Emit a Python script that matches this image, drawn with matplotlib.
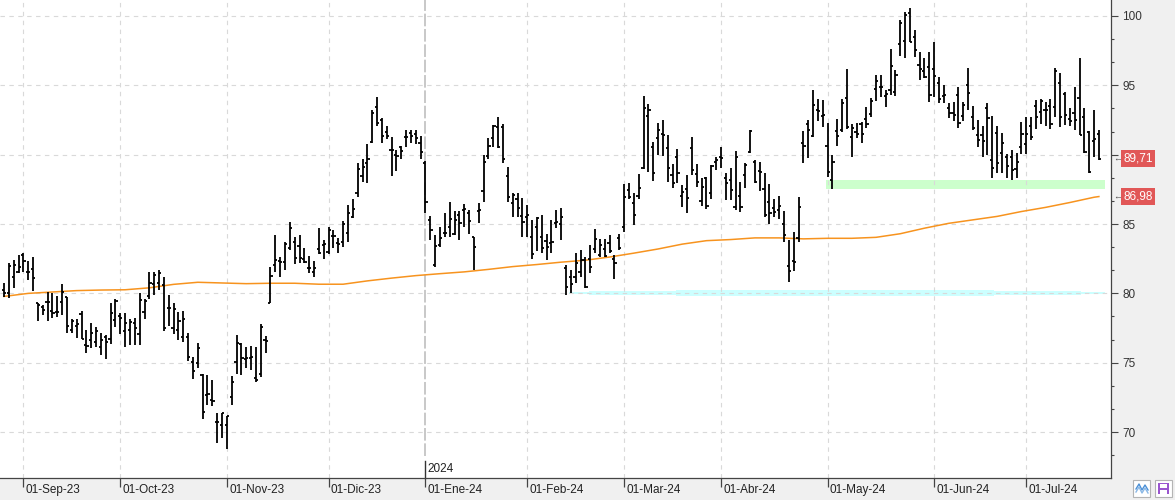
import matplotlib
matplotlib.use("Agg")
import matplotlib.pyplot as plt
import numpy as np
import pandas as pd
from matplotlib.ticker import MultipleLocator
from matplotlib.patches import Rectangle
from matplotlib.lines import Line2D

plt.rcParams["font.family"] = ["Liberation Sans", "DejaVu Sans"]
plt.rcParams["font.size"] = 8

# Trading days (US calendar), 28-Aug-2023 .. 23-Jul-2024
holidays = ["2023-09-04", "2023-11-23", "2023-12-25", "2024-01-01", "2024-01-15",
            "2024-02-19", "2024-03-29", "2024-05-27", "2024-06-19", "2024-07-04"]
dates = pd.bdate_range("2023-08-28", "2024-07-23").drop(pd.to_datetime(holidays))

opens = [
    80.24, 80.0, 81.16, 81.57, 82.77, 81.57, 81.74, 79.28, 79.04, 79.4,
    78.73, 78.68, 79.4, 79.72, 77.36, 77.65, 78.49, 76.28, 76.64, 76.52,
    76.11, 76.83, 76.71, 78.08, 78.37, 77.31, 77.36, 77.84, 77.07, 78.68,
    79.81, 80.65, 80.73, 80.61, 78.92, 77.48, 77.36, 76.88, 76.88, 75.03,
    75.0, 74.12, 72.67, 72.31, 70.75, 70.51, 70.51, 72.55, 75.08, 76.33,
    75.27, 75.32, 73.88, 74.16, 76.64, 79.33, 82.05, 82.34, 82.29, 83.25,
    83.73, 83.44, 82.46, 81.86, 81.52, 83.2, 83.49, 82.96, 84.14, 83.61,
    83.68, 84.33, 85.54, 87.22, 88.47, 89.38, 90.89, 93.42, 92.51, 91.62,
    90.34, 89.98, 90.53, 91.3, 91.59, 91.5, 90.82, 89.38, 85.3, 82.05,
    83.49, 84.33, 84.8, 84.28, 85.66, 86.02, 85.77, 84.04, 85.97, 87.39,
    89.93, 91.18, 92.0, 92.0, 88.49, 86.5, 86.8, 85.6, 85.53, 84.09,
    84.81, 84.09, 83.8, 83.61, 85.05, 85.0, 81.81, 81.21, 81.21, 81.57,
    82.41, 82.5, 83.2, 82.8, 83.2, 83.6, 82.5, 83.97, 84.81, 87.46,
    86.5, 87.0, 89.02, 92.8, 90.58, 91.2, 91.5, 90.51, 88.5, 89.86,
    87.0, 87.5, 90.46, 88.61, 86.66, 88.3, 87.26, 89.5, 89.8, 88.3,
    88.2, 86.25, 87.0, 88.5, 90.22, 89.5, 88.8, 87.5, 86.6, 86.14,
    86.0, 85.0, 82.0, 82.3, 84.0, 90.82, 92.2, 91.35, 93.2, 92.8,
    90.63, 88.2, 91.7, 91.8, 94.06, 91.3, 91.6, 92.2, 92.6, 92.9,
    94.7, 94.9, 94.2, 94.66, 94.5, 98.0, 98.2, 100.2, 98.5, 96.5,
    96.0, 96.35, 96.2, 95.15, 94.2, 93.34, 93.0, 94.3, 92.8, 95.02,
    92.7, 91.4, 91.4, 93.34, 89.62, 91.55, 90.1, 89.8, 89.85, 89.0,
    90.58, 90.8, 92.07, 93.5, 93.1, 93.2, 93.5, 93.46, 95.15, 94.4,
    92.6, 93.0, 94.06, 92.74, 91.6, 91.0, 91.5,
]
highs = [
    80.77, 82.22, 82.41, 82.77, 82.89, 82.36, 82.65, 79.33, 79.14, 80.12,
    80.0, 79.81, 80.68, 79.72, 78.13, 78.15, 78.73, 77.36, 77.84, 77.55,
    77.12, 77.0, 79.33, 79.57, 78.61, 78.61, 78.13, 78.2, 80.05, 79.57,
    81.57, 81.57, 81.69, 81.16, 79.88, 79.28, 78.68, 78.73, 77.12, 75.44,
    76.4, 74.19, 74.12, 73.76, 71.35, 71.4, 71.16, 74.04, 77.0, 76.4,
    76.16, 76.21, 76.16, 77.79, 76.93, 81.93, 84.21, 82.65, 83.68, 85.13,
    84.09, 84.21, 83.25, 82.72, 82.36, 84.69, 83.85, 84.81, 84.57, 83.97,
    85.22, 86.38, 86.78, 89.38, 89.69, 90.75, 93.23, 94.19, 92.63, 92.07,
    91.26, 90.34, 90.63, 91.78, 91.78, 91.78, 91.35, 89.57, 85.58, 84.21,
    84.81, 85.77, 86.57, 85.97, 85.97, 86.45, 86.02, 84.09, 86.54, 89.98,
    91.18, 92.15, 92.75, 92.19, 89.09, 87.22, 87.22, 86.86, 86.38, 85.3,
    85.53, 85.66, 84.28, 85.3, 86.02, 86.14, 82.05, 81.69, 82.89, 83.13,
    82.65, 83.49, 84.62, 83.9, 83.9, 84.21, 82.77, 84.28, 87.89, 87.94,
    87.22, 88.59, 94.24, 93.66, 90.94, 92.27, 92.51, 91.42, 89.33, 90.39,
    87.82, 88.54, 91.3, 89.33, 88.3, 88.42, 89.26, 89.86, 90.53, 88.66,
    89.02, 90.29, 88.06, 89.43, 91.78, 89.62, 89.5, 88.66, 87.89, 86.78,
    87.02, 85.94, 83.85, 84.4, 86.98, 91.71, 92.5, 94.66, 94.02, 93.94,
    92.26, 89.98, 92.57, 93.99, 96.18, 92.21, 92.26, 92.38, 93.42, 94.06,
    95.75, 95.75, 94.66, 97.6, 96.1, 99.71, 100.31, 100.55, 98.99, 97.43,
    96.95, 97.43, 98.1, 95.63, 95.03, 93.7, 93.82, 94.86, 93.82, 96.23,
    93.51, 92.5, 92.07, 93.7, 92.79, 92.07, 91.54, 90.05, 90.34, 90.1,
    92.38, 92.7, 92.7, 93.94, 93.99, 93.82, 93.99, 96.23, 95.87, 94.54,
    93.34, 94.86, 96.95, 93.34, 91.73, 93.22, 91.78,
]
lows = [
    79.76, 79.64, 80.37, 81.45, 81.57, 80.97, 80.2, 78.03, 78.44, 78.03,
    78.2, 78.32, 78.44, 77.17, 77.17, 76.81, 76.71, 75.68, 76.04, 76.16,
    75.56, 75.25, 76.35, 77.6, 77.07, 76.16, 76.28, 76.28, 76.28, 78.13,
    79.57, 79.88, 80.24, 77.31, 77.65, 77.07, 76.64, 76.52, 75.15, 73.8,
    74.6, 70.92, 71.95, 71.9, 69.19, 69.55, 68.76, 71.95, 74.19, 74.12,
    74.6, 74.48, 73.64, 73.95, 75.68, 79.28, 81.57, 81.16, 81.69, 83.13,
    82.1, 82.22, 82.17, 81.5, 81.16, 82.82, 82.46, 82.82, 83.25, 82.89,
    83.32, 83.73, 85.42, 86.93, 88.01, 87.94, 90.82, 92.1, 90.82, 91.11,
    88.49, 88.85, 89.7, 90.58, 90.87, 90.75, 89.7, 85.77, 83.85, 81.88,
    83.32, 84.09, 84.04, 84.21, 83.85, 84.76, 84.28, 81.69, 85.05, 86.62,
    89.67, 90.58, 90.46, 89.38, 86.62, 85.49, 85.49, 84.04, 84.09, 82.46,
    83.08, 82.94, 82.41, 82.89, 84.69, 83.85, 79.88, 80.0, 80.77, 81.21,
    80.37, 81.45, 82.89, 82.65, 82.65, 82.89, 81.02, 83.13, 84.45, 86.78,
    84.93, 86.78, 88.95, 88.78, 88.13, 89.98, 89.91, 88.06, 87.58, 87.99,
    86.21, 85.77, 88.54, 87.7, 86.3, 86.06, 86.78, 88.9, 89.02, 86.74,
    86.74, 86.01, 85.89, 87.58, 90.15, 87.94, 87.41, 85.53, 85.0, 85.53,
    85.34, 83.73, 80.85, 81.64, 83.73, 89.38, 89.78, 91.3, 92.45, 91.97,
    88.42, 87.5, 90.65, 91.61, 91.83, 89.81, 91.18, 90.82, 91.9, 92.7,
    93.9, 94.14, 93.46, 94.3, 94.2, 97.12, 96.99, 98.15, 97.02, 95.39,
    95.5, 93.82, 94.14, 93.7, 93.75, 92.62, 92.45, 91.9, 92.45, 93.22,
    91.78, 90.58, 89.86, 89.98, 88.33, 88.7, 88.7, 88.33, 88.18, 88.3,
    90.05, 90.05, 91.06, 91.83, 92.22, 92.07, 91.83, 92.74, 92.02, 92.14,
    92.07, 91.78, 91.42, 90.15, 88.66, 89.86, 89.62,
]
closes = [
    80.05, 81.98, 82.05, 81.93, 82.34, 81.52, 81.09, 79.16, 78.8, 79.4,
    78.61, 78.68, 80.08, 77.65, 78.01, 77.77, 76.71, 76.21, 77.12, 77.31,
    76.64, 76.5, 78.61, 79.45, 78.25, 77.84, 77.91, 77.48, 79.52, 79.48,
    80.73, 81.33, 81.45, 77.48, 78.92, 78.87, 78.01, 78.15, 75.39, 74.4,
    76.04, 71.42, 72.75, 72.24, 70.75, 71.35, 71.16, 73.64, 76.4, 75.32,
    75.32, 75.39, 73.76, 77.55, 76.57, 81.25, 82.41, 82.29, 83.54, 84.69,
    82.58, 82.53, 82.29, 81.86, 81.81, 82.94, 83.54, 84.57, 84.14, 83.56,
    84.98, 85.82, 86.06, 88.95, 89.14, 89.67, 92.99, 92.27, 91.35, 91.38,
    90.34, 89.91, 90.25, 91.3, 91.38, 91.18, 90.22, 86.57, 84.57, 83.44,
    83.97, 84.38, 85.34, 85.3, 85.05, 86.06, 85.25, 83.32, 86.02, 89.5,
    90.63, 92.1, 90.58, 89.67, 86.98, 87.1, 86.14, 85.18, 85.66, 82.84,
    85.42, 83.25, 83.37, 83.68, 85.13, 85.53, 80.49, 80.65, 82.17, 82.41,
    80.49, 81.93, 83.9, 83.5, 82.7, 83.08, 82.22, 83.25, 86.98, 86.98,
    85.66, 87.58, 93.35, 93.2, 88.66, 91.78, 91.42, 89.02, 87.94, 88.66,
    87.29, 86.86, 88.9, 88.01, 87.7, 86.3, 89.19, 89.62, 89.74, 87.94,
    87.46, 89.81, 86.2, 89.26, 91.71, 88.06, 88.78, 85.65, 85.77, 85.89,
    86.33, 84.21, 81.64, 82.29, 86.25, 90.65, 91.8, 93.58, 93.15, 92.86,
    88.73, 89.45, 91.35, 93.7, 92.02, 91.9, 91.5, 91.47, 92.2, 93.9,
    95.31, 94.9, 94.35, 96.42, 95.72, 99.47, 100.1, 98.15, 97.55, 96.15,
    95.57, 94.3, 95.67, 93.99, 94.3, 92.98, 92.86, 92.26, 93.58, 94.42,
    91.9, 91.06, 90.99, 92.62, 89.02, 89.38, 90.82, 89.19, 88.9, 89.5,
    91.5, 91.47, 91.3, 92.7, 93.9, 93.22, 92.2, 96.06, 92.74, 92.86,
    92.45, 92.5, 91.42, 90.22, 88.78, 91.1, 89.71,
]

# moving average, read every 5th session (plus the last one)
ma_values = [
    79.78, 80.0, 80.1, 80.2, 80.24, 80.26, 80.4, 80.65, 80.8, 80.75,
    80.7, 80.73, 80.73, 80.66, 80.66, 80.9, 81.1, 81.28, 81.42, 81.55,
    81.73, 81.93, 82.08, 82.25, 82.39, 82.62, 82.9, 83.2, 83.55, 83.8,
    83.88, 84.0, 84.0, 83.93, 83.97, 83.97, 84.04, 84.3, 84.7, 85.05,
    85.3, 85.55, 85.9, 86.2, 86.55, 86.93, 86.98,
]

# horizontal zones: (start date, end date or None = right edge, low, high, colour)
zones = [
    ("2024-05-01", None, 87.55, 88.2, "#ccffcc"),
    ("2024-02-14", None, 79.96, 80.1, "#ccffff"),
    ("2024-02-21", "2024-07-17", 79.89, 80.17, "#ccffff"),
    ("2024-03-18", "2024-06-20", 79.81, 80.27, "#ccffff"),
]

month_abbr = {1: "Ene", 2: "Feb", 3: "Mar", 4: "Abr", 5: "May", 6: "Jun",
              7: "Jul", 8: "Ago", 9: "Sep", 10: "Oct", 11: "Nov", 12: "Dic"}

x = np.arange(len(dates))
pos = {d: i for i, d in enumerate(dates)}

fig = plt.figure(figsize=(11.75, 5.0), dpi=100, facecolor="#f0f0f0")
ax = fig.add_axes([0, 22 / 500, 1111 / 1175, 478 / 500])
ax.set_facecolor("white")
ax.set_xlim(-0.83, 228.5)
ax.set_ylim(66.69, 101.15)

# grid (drawn over the zones, under the bars)
grid_kw = dict(color="#d9d9d9", linestyle=(0, (4, 4)), linewidth=0.8, zorder=1.5)
ax.set_yticks(range(70, 101, 5))
ax.yaxis.set_minor_locator(MultipleLocator(5 / 3))
ax.grid(axis="y", which="major", **grid_kw)

month_pos, month_lbl = [], []
for i, d in enumerate(dates):
    if i > 0 and d.month != dates[i - 1].month:
        month_pos.append(i)
        month_lbl.append(f"01-{month_abbr[d.month]}-{d.strftime('%y')}")
year_pos = [p for p, l in zip(month_pos, month_lbl) if "-Ene-" in l]
for p in month_pos:
    if p in year_pos:
        ax.axvline(p, ymin=0.045, color="#c4c4c4", lw=1.3,
                   linestyle=(0, (7, 1.5)), zorder=1.5)
        ax.plot([p, p], [0, 0.035], transform=ax.get_xaxis_transform(),
                color="#333333", lw=1, clip_on=False)
        ax.annotate(str(dates[p].year), xy=(p, 0.018),
                    xycoords=("data", "axes fraction"), xytext=(1.5, 0),
                    textcoords="offset points", ha="left", va="center",
                    color="#222222", fontsize=8.5)
    else:
        ax.axvline(p, **grid_kw)

# zones
right_end = len(dates) + 0.25
for start, end, lo, hi, col in zones:
    s = pos[pd.Timestamp(start)] - 0.3
    e = right_end if end is None else pos[pd.Timestamp(end)] + 0.3
    ax.fill_between([s, e], lo, hi, color=col, lw=0, zorder=1)

# moving average
ma_x = list(x[::5]) + [x[-1]]
ax.plot(ma_x, ma_values, color="#f7931e", lw=1.1, zorder=2)

# OHLC bars
bar_kw = dict(color="black", lw=1.3, zorder=3)
ax.vlines(x, lows, highs, **bar_kw)
ax.hlines(opens, x - 0.45, x, **bar_kw)
ax.hlines(closes, x, x + 0.45, **bar_kw)

# axes styling
for s in ("top", "left"):
    ax.spines[s].set_visible(False)
for s in ("right", "bottom"):
    ax.spines[s].set_color("#444444")
    ax.spines[s].set_linewidth(0.9)

ax.yaxis.tick_right()
ax.tick_params(axis="y", which="major", direction="out", length=5, width=0.8,
               color="#444444", pad=3, labelsize=8.5, labelcolor="#333333")
ax.tick_params(axis="y", which="minor", direction="out", length=2.5, width=0.8,
               color="#444444")
# the 90 label sits under the last-price tag
ax.set_yticklabels(["" if v == 90 else str(v) for v in range(70, 101, 5)])
ax.set_xticks(month_pos)
ax.set_xticklabels([])
ax.tick_params(axis="x", direction="out", length=6.5, width=0.9, color="#444444")
for p, lbl in zip(month_pos, month_lbl):
    ax.annotate(lbl, xy=(p, 0), xycoords=("data", "axes fraction"),
                xytext=(1.6, -4.4), textcoords="offset points",
                ha="left", va="top", fontsize=8.5, color="#222222",
                annotation_clip=False)

# last-value tags
for val, col in ((closes[-1], "#e15757"), (ma_values[-1], "#e15757")):
    txt = f"{val:.2f}".replace(".", ",")
    ax.annotate("←", xy=(1, val), xycoords=("axes fraction", "data"),
                xytext=(4.5, 0), textcoords="offset points", ha="center",
                va="center", fontsize=6.5, color="#555555",
                annotation_clip=False)
    ax.annotate(txt, xy=(1, val), xycoords=("axes fraction", "data"),
                xytext=(19.3, 0), textcoords="offset points", ha="center",
                va="center", fontsize=8.5, color="white",
                bbox=dict(boxstyle="square,pad=0.2", fc=col, ec="none"),
                annotation_clip=False)

# little toolbar icons bottom right
W, H = 1175.0, 500.0
def box(x0, y0, w, h, **kw):
    fig.patches.append(Rectangle((x0 / W, 1 - (y0 + h) / H), w / W, h / H,
                                 transform=fig.transFigure, **kw))
def poly(xs, ys, **kw):
    fig.lines.append(Line2D([v / W for v in xs], [1 - v / H for v in ys],
                            transform=fig.transFigure, **kw))

box(1133, 480, 17, 17, fc="white", ec="#b4b4b4", lw=0.8)
poly([1136, 1139, 1142, 1145, 1148], [489, 484, 490, 485, 490], color="#4a8fd6", lw=1.0)
poly([1136, 1139, 1142, 1145, 1148], [492, 487, 493, 488, 493], color="#8ab8e6", lw=1.0)
box(1155, 480, 17, 17, fc="white", ec="#b4b4b4", lw=0.8)
box(1158, 483, 11, 11, fc="#9a55cf", ec="none")
box(1160, 483.5, 7, 4.5, fc="white", ec="none")
box(1160, 490, 7, 3.5, fc="white", ec="none")

fig.savefig("out.png", dpi=100, facecolor=fig.get_facecolor())
